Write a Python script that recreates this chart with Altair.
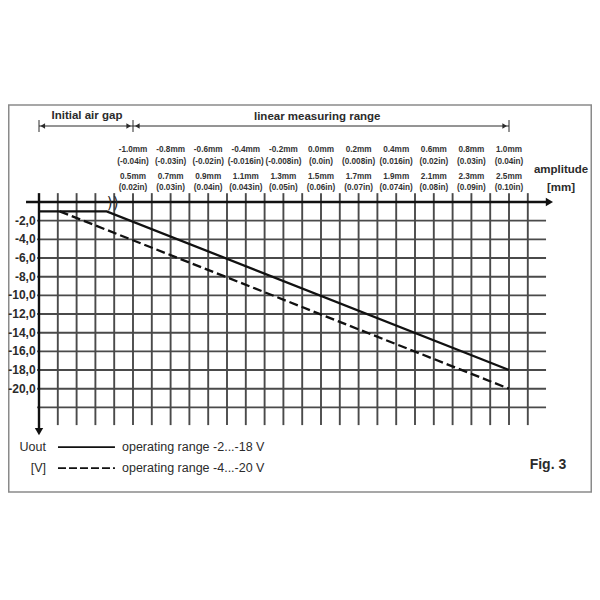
import altair as alt
import pandas as pd

# ---------------- data ----------------
top_mm = [-1.0, -0.8, -0.6, -0.4, -0.2, 0.0, 0.2, 0.4, 0.6, 0.8, 1.0]
top_mm_labels = ["-1.0mm", "-0.8mm", "-0.6mm", "-0.4mm", "-0.2mm", "0.0mm",
                 "0.2mm", "0.4mm", "0.6mm", "0.8mm", "1.0mm"]
top_in_labels = ["(-0.04in)", "(-0.03in)", "(-0.02in)", "(-0.016in)", "(-0.008in)",
                 "(0.0in)", "(0.008in)", "(0.016in)", "(0.02in)", "(0.03in)", "(0.04in)"]
gap_mm_labels = ["0.5mm", "0.7mm", "0.9mm", "1.1mm", "1.3mm", "1.5mm",
                 "1.7mm", "1.9mm", "2.1mm", "2.3mm", "2.5mm"]
gap_in_labels = ["(0.02in)", "(0.03in)", "(0.04in)", "(0.043in)", "(0.05in)", "(0.06in)",
                 "(0.07in)", "(0.074in)", "(0.08in)", "(0.09in)", "(0.10in)"]
y_ticks = [-2, -4, -6, -8, -10, -12, -14, -16, -18, -20]
y_tick_labels = ["-2,0", "-4,0", "-6,0", "-8,0", "-10,0", "-12,0", "-14,0",
                 "-16,0", "-18,0", "-20,0"]
grid_x = [-1.4, -1.3, -1.2, -1.1, -1.0, -0.9, -0.8, -0.7, -0.6, -0.5, -0.4, -0.3, -0.2,
          -0.1, 0.0, 0.1, 0.2, 0.3, 0.4, 0.5, 0.6, 0.7, 0.8, 0.9, 1.0, 1.1]
grid_y = [-2, -4, -6, -8, -10, -12, -14, -16, -18, -20, -22]

solid_x = [-1.5, -1.14, 1.0]
solid_v = [-1, -1, -18]
dashed_x = [-1.39, 1.0]
dashed_v = [-1, -20]

legend_labels = ["operating range -2...-18 V", "operating range -4...-20 V"]

# ---------------- layout ----------------
W = H = 584
PX_MM = 188.0      # px per mm
X0 = 31.0          # plot px of x=-1.5
PX_V = 9.335       # px per volt
Y0 = 194.0         # plot px of v=0
x_dom = [-1.5 - X0 / PX_MM, -1.5 + (W - X0) / PX_MM]
y_dom = [-(H - Y0) / PX_V, Y0 / PX_V]

xs = alt.Scale(domain=x_dom, nice=False, zero=False)
ys = alt.Scale(domain=y_dom, nice=False, zero=False)


def X(f="x"):
    return alt.X(f"{f}:Q", scale=xs, axis=None)


def Y(f="y"):
    return alt.Y(f"{f}:Q", scale=ys, axis=None)


INK = "#2b2b2b"
GRID = "#4a4a4a"

layers = []

# frame
frame = pd.DataFrame({"x": [x_dom[0] + 0.004], "x2": [x_dom[1] - 0.004],
                      "y": [10.39], "y2": [-31.07]})
layers.append(alt.Chart(frame).mark_rect(fillOpacity=0, stroke="#8a8a8a", strokeWidth=1.5)
              .encode(x=X(), x2="x2:Q", y=Y(), y2="y2:Q"))

# vertical grid
vg = pd.DataFrame({"x": grid_x, "y": [0.95] * len(grid_x), "y2": [-23.9] * len(grid_x)})
layers.append(alt.Chart(vg).mark_rule(color=GRID, strokeWidth=1.9)
              .encode(x=X(), y=Y(), y2="y2:Q"))

# horizontal grid
hg = pd.DataFrame({"y": grid_y, "x": [-1.51] * len(grid_y), "x2": [1.197] * len(grid_y)})
layers.append(alt.Chart(hg).mark_rule(color=GRID, strokeWidth=1.9)
              .encode(y=Y(), x=X(), x2="x2:Q"))

# axes
yax = pd.DataFrame({"x": [-1.5], "y": [0.95], "y2": [-24.3]})
layers.append(alt.Chart(yax).mark_rule(color="#111", strokeWidth=2.4)
              .encode(x=X(), y=Y(), y2="y2:Q"))
xax = pd.DataFrame({"x": [-1.569], "x2": [1.205], "y": [0.0]})
layers.append(alt.Chart(xax).mark_rule(color="#111", strokeWidth=2.4)
              .encode(x=X(), x2="x2:Q", y=Y()))
arr_r = pd.DataFrame({"x": [1.215], "y": [0.0]})
layers.append(alt.Chart(arr_r).mark_point(shape="triangle-right", filled=True, color="#111",
                                          size=70, opacity=1)
              .encode(x=X(), y=Y()))
arr_d = pd.DataFrame({"x": [-1.5], "y": [-24.6]})
layers.append(alt.Chart(arr_d).mark_point(shape="triangle-down", filled=True, color="#111",
                                          size=70, opacity=1)
              .encode(x=X(), y=Y()))

# curves
sd = pd.DataFrame({"x": solid_x, "y": solid_v})
layers.append(alt.Chart(sd).mark_line(color="#111", strokeWidth=2.3)
              .encode(x=X(), y=Y()))
dd = pd.DataFrame({"x": dashed_x, "y": dashed_v})
layers.append(alt.Chart(dd).mark_line(color="#111", strokeWidth=2.3, strokeDash=[9, 4])
              .encode(x=X(), y=Y()))

# axis break symbol
brk = pd.DataFrame({"x": [-1.108], "y": [-0.15], "t": ["))"]})
layers.append(alt.Chart(brk).mark_text(font="DejaVu Sans", fontSize=15, color=INK,
                                       baseline="middle")
              .encode(x=X(), y=Y(), text="t:N"))

# dimension line on top
DIM_V = 8.14
dim = pd.DataFrame({"x": [-1.5], "x2": [1.0], "y": [DIM_V]})
layers.append(alt.Chart(dim).mark_rule(color=INK, strokeWidth=1)
              .encode(x=X(), x2="x2:Q", y=Y()))
dt = pd.DataFrame({"x": [-1.5, -1.0, 1.0], "y": [8.78] * 3, "y2": [7.5] * 3})
layers.append(alt.Chart(dt).mark_rule(color=INK, strokeWidth=1)
              .encode(x=X(), y=Y(), y2="y2:Q"))
da = pd.DataFrame({"x": [-1.48, -1.023, -0.977, 0.977], "y": [DIM_V] * 4,
                   "s": ["triangle-left", "triangle-right", "triangle-left", "triangle-right"]})
layers.append(alt.Chart(da).mark_point(filled=True, color=INK, size=28, opacity=1)
              .encode(x=X(), y=Y(),
                      shape=alt.Shape("s:N", scale=None, legend=None)))

# titles above
tt = pd.DataFrame({"x": [-1.245, -0.02], "y": [9.25, 9.1],
                   "t": ["Initial air gap", "linear measuring range"]})
layers.append(alt.Chart(tt).mark_text(font="Liberation Sans", fontWeight="bold",
                                      fontSize=11.5, color=INK)
              .encode(x=X(), y=Y(), text="t:N"))

# top tick labels (4 rows)
rows = [(top_mm_labels, 5.57), (top_in_labels, 4.32), (gap_mm_labels, 2.68), (gap_in_labels, 1.5)]
for labels, v in rows:
    df = pd.DataFrame({"x": top_mm, "y": [v] * len(top_mm), "t": labels})
    layers.append(alt.Chart(df).mark_text(font="Liberation Sans", fontWeight="bold",
                                          fontSize=8.2, color="#333")
                  .encode(x=X(), y=Y(), text="t:N"))

# amplitude [mm]
amp = pd.DataFrame({"x": [1.277, 1.277], "y": [3.43, 1.55], "t": ["amplitude", "[mm]"]})
layers.append(alt.Chart(amp).mark_text(font="Liberation Sans", fontWeight="bold",
                                       fontSize=11.5, color=INK)
              .encode(x=X(), y=Y(), text="t:N"))

# y tick labels
yl = pd.DataFrame({"x": [-1.518] * len(y_ticks), "y": y_ticks, "t": y_tick_labels})
layers.append(alt.Chart(yl).mark_text(font="Liberation Sans", fontWeight="bold",
                                      fontSize=12, color=INK, align="right")
              .encode(x=X(), y=Y(), text="t:N"))

# legend
ul = pd.DataFrame({"x": [-1.463, -1.463], "y": [-26.25, -28.5], "t": ["Uout", "[V]"]})
layers.append(alt.Chart(ul).mark_text(font="Liberation Sans", fontSize=12.5, color=INK,
                                      align="right")
              .encode(x=X(), y=Y(), text="t:N"))
l1 = pd.DataFrame({"x": [-1.399], "x2": [-1.096], "y": [-26.25]})
layers.append(alt.Chart(l1).mark_rule(color="#111", strokeWidth=1.8)
              .encode(x=X(), x2="x2:Q", y=Y()))
l2 = pd.DataFrame({"x": [-1.399], "x2": [-1.096], "y": [-28.5]})
layers.append(alt.Chart(l2).mark_rule(color="#111", strokeWidth=1.8, strokeDash=[8, 3])
              .encode(x=X(), x2="x2:Q", y=Y()))
lt = pd.DataFrame({"x": [-1.0585, -1.0585], "y": [-26.25, -28.5], "t": legend_labels})
layers.append(alt.Chart(lt).mark_text(font="Liberation Sans", fontSize=12.5, color=INK,
                                      align="left")
              .encode(x=X(), y=Y(), text="t:N"))

# Fig. 3
fg = pd.DataFrame({"x": [1.207], "y": [-28.17], "t": ["Fig. 3"]})
layers.append(alt.Chart(fg).mark_text(font="Liberation Sans", fontWeight="bold",
                                      fontSize=14, color=INK)
              .encode(x=X(), y=Y(), text="t:N"))

chart = (alt.layer(*layers)
         .properties(width=W, height=H, padding=0, autosize=alt.AutoSizeParams(type="none"),
                     background="white")
         .configure_view(stroke=None))

chart.save("out.html", embed_options={"renderer": "svg", "actions": False})
